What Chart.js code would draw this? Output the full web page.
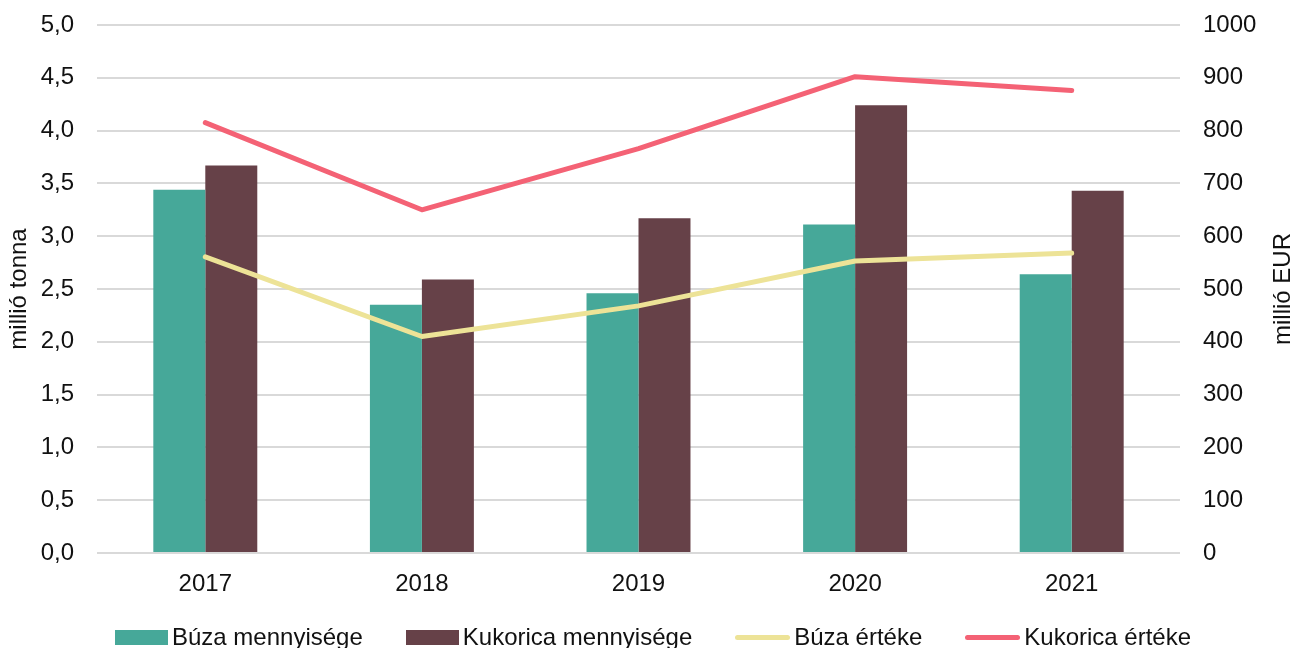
<!DOCTYPE html>
<html>
<head>
<meta charset="utf-8">
<script src="https://cdn.jsdelivr.net/npm/chart.js@4/dist/chart.umd.min.js"></script>
<style>
  html, body { margin: 0; padding: 0; background: #fff; overflow: hidden; }
  #wrap { position: relative; width: 1293px; height: 648px; }
  #legend { position: absolute; left: 115px; top: 623px; display: flex; align-items: center;
            font-family: "Liberation Sans", Arial, sans-serif; font-size: 24px; color: #111; white-space: nowrap; }
  .item { display: flex; align-items: center; margin-right: 43px; }
  .sw { width: 53px; height: 15px; margin-right: 4px; }
  .ln { width: 55px; height: 5px; border-radius: 3px; margin-right: 4px; }
</style>
</head>
<body>
<div id="wrap">
  <canvas id="c" width="1293" height="648"></canvas>
  <div id="legend"></div>
</div>
<script>
const categories = ['2017', '2018', '2019', '2020', '2021'];
const buzaMennyiseg = [3.44, 2.35, 2.46, 3.11, 2.64];
const kukoricaMennyiseg = [3.67, 2.59, 3.17, 4.24, 3.43];
const buzaErtek = [561, 410, 468, 553, 568];
const kukoricaErtek = [815, 650, 766, 902, 876];
const seriesNames = ['Búza mennyisége', 'Kukorica mennyisége', 'Búza értéke', 'Kukorica értéke'];
const leftTitle = 'millió tonna';
const rightTitle = 'millió EUR';

const colGreen = '#46A899';
const colBrown = '#664148';
const colYellow = '#EDE397';
const colRed = '#F46275';
const FONT = '"Liberation Sans", Arial, sans-serif';
const FS = 24;

const titlesPlugin = {
  id: 'axisTitles',
  afterDraw(chart) {
    const ctx = chart.ctx;
    const a = chart.chartArea;
    const cy = (a.top + a.bottom) / 2;
    [[leftTitle, 19], [rightTitle, 1283]].forEach(([txt, x]) => {
      ctx.save();
      ctx.font = FS + 'px ' + FONT;
      ctx.fillStyle = '#111';
      ctx.textAlign = 'center';
      ctx.textBaseline = 'middle';
      ctx.translate(x, cy);
      ctx.rotate(-Math.PI / 2);
      ctx.fillText(txt, 0, 0);
      ctx.restore();
    });
  }
};

new Chart(document.getElementById('c'), {
  data: {
    labels: categories,
    datasets: [
      { type: 'bar', label: seriesNames[0], data: buzaMennyiseg, backgroundColor: colGreen, yAxisID: 'y', order: 2,
        barPercentage: 1, categoryPercentage: 0.48 },
      { type: 'bar', label: seriesNames[1], data: kukoricaMennyiseg, backgroundColor: colBrown, yAxisID: 'y', order: 2,
        barPercentage: 1, categoryPercentage: 0.48 },
      { type: 'line', label: seriesNames[2], data: buzaErtek, borderColor: colYellow, backgroundColor: colYellow,
        borderWidth: 5, pointRadius: 0, tension: 0, borderCapStyle: 'round', borderJoinStyle: 'round', yAxisID: 'y1', order: 1 },
      { type: 'line', label: seriesNames[3], data: kukoricaErtek, borderColor: colRed, backgroundColor: colRed,
        borderWidth: 5, pointRadius: 0, tension: 0, borderCapStyle: 'round', borderJoinStyle: 'round', yAxisID: 'y1', order: 0 }
    ]
  },
  options: {
    responsive: false,
    animation: false,
    devicePixelRatio: 1,
    layout: { padding: { top: 25, left: 0, right: 0, bottom: 0 } },
    plugins: { legend: { display: false }, tooltip: { enabled: false } },
    scales: {
      x: {
        grid: { display: false, drawTicks: false },
        border: { display: false },
        ticks: { padding: 17, color: '#111', font: { family: FONT, size: FS } },
        afterFit: (s) => { s.height = 95; }
      },
      y: {
        position: 'left',
        min: 0, max: 5,
        grid: { color: '#d9d9d9', lineWidth: 2, drawTicks: true, tickLength: 23, tickColor: 'rgba(0,0,0,0)' },
        border: { display: false },
        ticks: { stepSize: 0.5, padding: 0, color: '#111', font: { family: FONT, size: FS },
          callback: (v) => Number(v).toFixed(1).replace('.', ',') },
        afterFit: (s) => { s.width = 97; }
      },
      y1: {
        position: 'right',
        min: 0, max: 1000,
        grid: { display: false, drawTicks: true, tickLength: 23 },
        border: { display: false },
        ticks: { stepSize: 100, padding: 0, color: '#111', font: { family: FONT, size: FS },
          callback: (v) => String(v) },
        afterFit: (s) => { s.width = 113; }
      }
    }
  },
  plugins: [titlesPlugin]
});

const legend = document.getElementById('legend');
const legendDefs = [
  { name: seriesNames[0], color: colGreen, kind: 'sw' },
  { name: seriesNames[1], color: colBrown, kind: 'sw' },
  { name: seriesNames[2], color: colYellow, kind: 'ln' },
  { name: seriesNames[3], color: colRed, kind: 'ln' }
];
legendDefs.forEach(d => {
  const it = document.createElement('div');
  it.className = 'item';
  const m = document.createElement('span');
  m.className = d.kind;
  m.style.background = d.color;
  const t = document.createElement('span');
  t.textContent = d.name;
  it.appendChild(m); it.appendChild(t);
  legend.appendChild(it);
});
</script>
</body>
</html>
